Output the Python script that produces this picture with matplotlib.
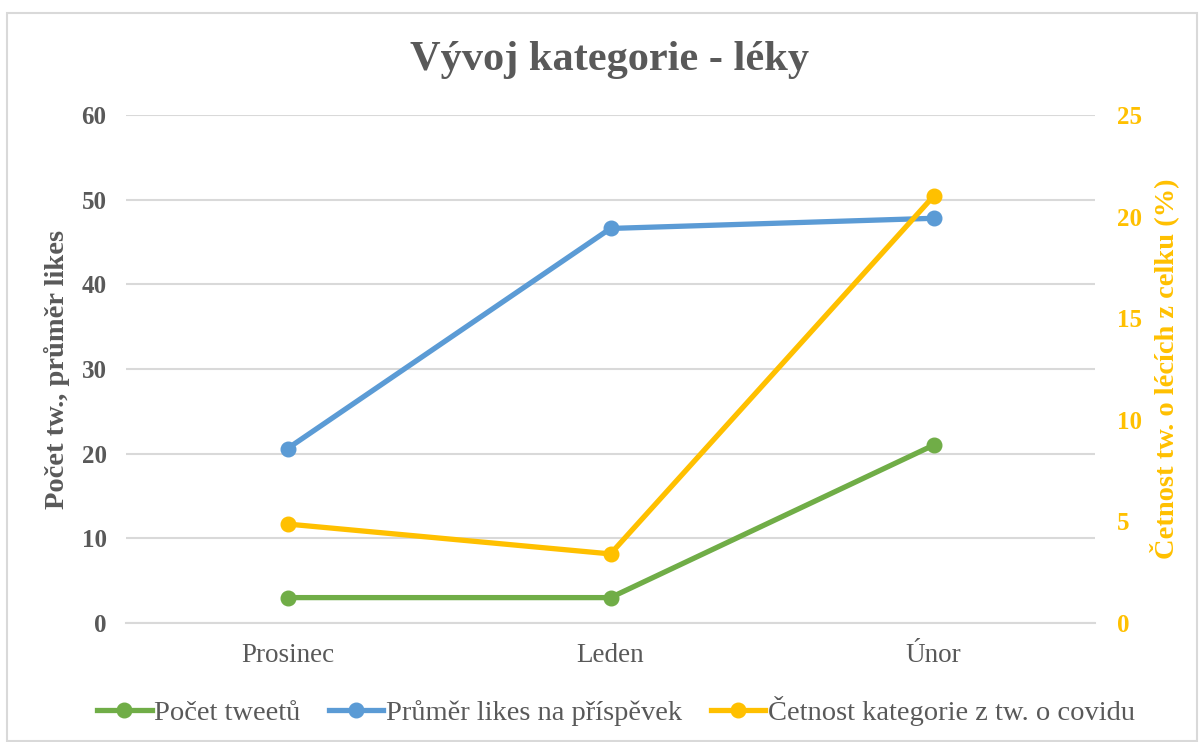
import matplotlib
matplotlib.use("Agg")
import matplotlib.pyplot as plt
from matplotlib.patches import Rectangle

categories = ["Prosinec", "Leden", "Únor"]
pocet_tweetu = [3, 3, 21]
prumer_likes = [20.6, 46.6, 47.8]
cetnost = [4.87, 3.4, 21.0]

left_ticks = [0, 10, 20, 30, 40, 50, 60]
right_ticks = [0, 5, 10, 15, 20, 25]

GREEN = "#70AD47"
BLUE = "#5B9BD5"
GOLD = "#FFC000"
GRAY = "#595959"

plt.rcParams['font.family'] = ['Liberation Serif', 'DejaVu Serif']

fig = plt.figure(figsize=(12.03, 7.42), dpi=100)
ax = fig.add_axes([126/1203, 1 - 623/742, (1095-126)/1203, (623-115)/742])
ax2 = ax.twinx()

x = list(range(len(categories)))
l1, = ax.plot(x, pocet_tweetu, color=GREEN, lw=3.8, marker='o', ms=10.5, label="Počet tweetů", zorder=3)
l2, = ax.plot(x, prumer_likes, color=BLUE, lw=3.8, marker='o', ms=10.5, label="Průměr likes na příspěvek", zorder=3)
l3, = ax2.plot(x, cetnost, color=GOLD, lw=3.8, marker='o', ms=10.5, label="Četnost kategorie z tw. o covidu", zorder=3)

ax.set_xlim(-0.5, 2.5)
ax.set_ylim(0, 60)
ax2.set_ylim(0, 25)
ax.set_yticks(left_ticks)
ax2.set_yticks(right_ticks)
ax.set_xticks(x)
ax.set_xticklabels(categories, fontsize=19.5, color=GRAY)
ax.grid(axis='y', color='#D9D9D9', lw=1.5)
ax.set_axisbelow(True)
for a in (ax, ax2):
    for s in a.spines.values():
        s.set_visible(False)
ax.spines['bottom'].set_visible(True)
ax.spines['bottom'].set_color('#D9D9D9')
ax.spines['bottom'].set_linewidth(1.5)
ax.tick_params(axis='both', length=0)
ax2.tick_params(axis='both', length=0)
ax.tick_params(axis='x', pad=14.5)
ax.tick_params(axis='y', pad=14)
ax2.tick_params(axis='y', pad=16)
for t in ax.get_yticklabels():
    t.set_fontsize(18); t.set_fontweight('bold'); t.set_color(GRAY)
for t in ax2.get_yticklabels():
    t.set_fontsize(18); t.set_fontweight('bold'); t.set_color(GOLD)

ax.set_ylabel("Počet tw., průměr likes", fontsize=20.5, fontweight='bold', color=GRAY, labelpad=8)
ax2.set_ylabel("Četnost tw. o lécích z celku (%)", fontsize=20.5, fontweight='bold', color=GOLD, labelpad=5)

fig.text(610/1203, 1 - 60/742, "Vývoj kategorie - léky", ha='center', va='center', fontsize=30.5, fontweight='bold', color=GRAY)

leg = fig.legend(handles=[l1, l2, l3], loc='center', bbox_to_anchor=(616/1203, 1 - 711/742), ncol=3, frameon=False,
                 fontsize=20.5, handlelength=1.9, handletextpad=0.1, columnspacing=1.0, markerscale=1.0)
for t in leg.get_texts():
    t.set_color(GRAY)

fig.patches.append(Rectangle((7/1203, 0.002), (1197-7)/1203, 1 - 13/742 - 0.002, transform=fig.transFigure,
                             fill=False, edgecolor='#D9D9D9', lw=1.5))

fig.savefig("out.png", dpi=100)
